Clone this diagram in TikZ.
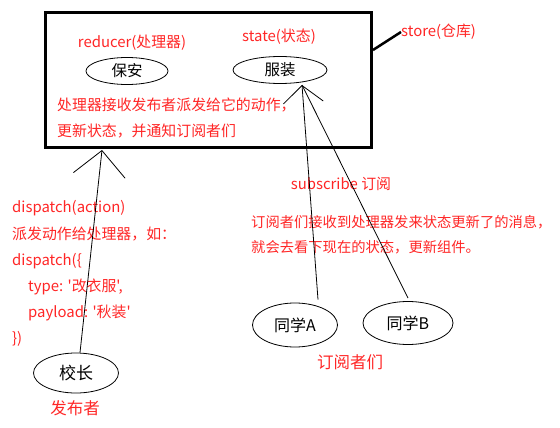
\documentclass[tikz,border=0pt]{standalone}
\usepackage{fontspec}
\setmainfont{Noto Sans CJK SC}[Ligatures=TeXOff]
\usepackage{tikz}
\usetikzlibrary{arrows.meta,positioning,shapes.geometric}
\definecolor{notered}{HTML}{FF2626}

\begin{document}
\begin{tikzpicture}[x=1pt, y=-1pt,
  role/.style={draw, ellipse, line width=0.8pt, inner sep=0pt, font=\fontsize{16}{18}\selectfont},
  note/.style={text=notered, inner sep=0pt, font=\fontsize{14.9}{26}\selectfont},
  bignote/.style={text=notered, inner sep=0pt, font=\fontsize{16.5}{20}\selectfont},
  arr/.style={-{Straight Barb[length=25pt,width=52pt]}, line width=0.8pt},
  lead/.style={line width=2.5pt}
]
  \useasboundingbox (0,0) rectangle (560,428);

  \node[draw, line width=3pt, minimum width=326pt, minimum height=134pt, inner sep=0pt] (store) at (208,80) {};
  \node[note, anchor=west] (storelbl) at (401,32) {store(仓库)};
  \coordinate (storept) at (373,50);

  \node[note] (reducerlbl) at (132,43) {reducer(处理器)};
  \node[note] (statelbl) at (279,37) {state(状态)};
  \node[role, font=\fontsize{15.5}{18}\selectfont, minimum width=82pt, minimum height=27pt] (guard) at (127,71) {保安};
  \node[role, font=\fontsize{15.5}{18}\selectfont, minimum width=94pt, minimum height=27pt] (clothes) at (280,70) {服装};
  \node[note, anchor=north west, align=left] (storenote) at (57,97.5) {处理器接收发布者派发给它的动作，\\更新状态，并通知订阅者们};

  \node[note, anchor=north west, align=left, font=\fontsize{14.9}{26.2}\selectfont] (dispatchnote) at (12,200.5)
    {dispatch(action)\\派发动作给处理器，如：\\dispatch(\{\\\hspace*{16pt}type: '改衣服',\\\hspace*{16pt}payload: '秋装'\\\})};
  \node[role, font=\fontsize{17}{18}\selectfont, minimum width=85pt, minimum height=40pt] (principal) at (76,373) {校长};
  \node[bignote] (publbl) at (75,408) {发布者};

  \node[note] (sublbl) at (341,184) {subscribe 订阅};
  \node[note, anchor=north west, align=left, font=\fontsize{14.3}{25}\selectfont] (subnote) at (251,215)
    {订阅者们接收到处理器发来状态更新了的消息，\\就会去看下现在的状态，更新组件。};
  \node[role, minimum width=85pt, minimum height=44pt] (stuA) at (295,325) {同学A};
  \node[role, minimum width=90pt, minimum height=43pt] (stuB) at (408,323) {同学B};
  \node[bignote] (readers) at (350,362) {订阅者们};

  \coordinate (dispatchhit) at (102,150);
  \coordinate (clotheshit) at (302,85);

  \draw[lead] (storept) -- (storelbl.west);
  \draw[arr] ([xshift=4pt]principal.north) -- (dispatchhit);
  \draw[arr, -{Straight Barb[length=17pt,width=40pt]}] ([xshift=23pt,yshift=3pt]stuA.north) -- (clotheshit);
  \draw[line width=0.8pt] ([yshift=3pt]stuB.north) -- (clotheshit);
\end{tikzpicture}
\end{document}
